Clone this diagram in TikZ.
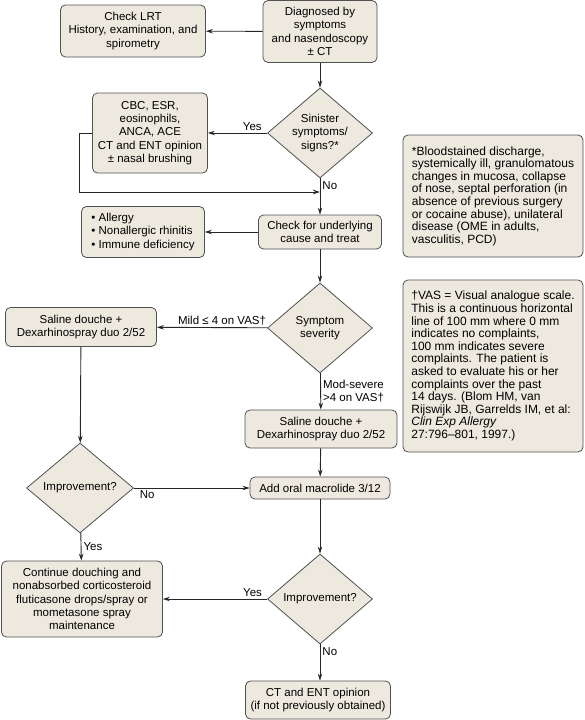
\documentclass[tikz,border=0pt]{standalone}
\usepackage{fontspec}
\setmainfont{Liberation Sans}
\usetikzlibrary{positioning}
\usetikzlibrary{shapes.geometric}
\usetikzlibrary{arrows.meta}

\definecolor{boxfill}{HTML}{EDE9DE}
\definecolor{boxline}{HTML}{505050}
\definecolor{arrowline}{HTML}{262626}

\tikzset{
  box/.style={draw=boxline, fill=boxfill, rounded corners=5pt, line width=0.8pt,
    align=center, inner sep=2pt, font=\fontsize{11.5}{13.4}\selectfont},
  decision/.style={draw=boxline, fill=boxfill, diamond, aspect=1.17, inner sep=0pt,
    line width=0.8pt, align=center, minimum width=105pt, minimum height=90pt,
    font=\fontsize{11.5}{13.4}\selectfont},
  note/.style={box, align=left, inner sep=4pt, font=\fontsize{12}{12.6}\selectfont},
  flow/.style={-{Stealth[length=7pt,width=4.5pt]}, line width=0.9pt, draw=arrowline},
  lbl/.style={font=\fontsize{11.5}{13.4}\selectfont, inner sep=2pt}
}

\begin{document}
\begin{tikzpicture}[x=1pt,y=-1pt]
        \useasboundingbox (0,0) rectangle (584,720);

        % Boxes of the main column
        \node[box, minimum width=114pt, minimum height=62pt] (diag) at (320,31.5)
          {Diagnosed by\\symptoms\\and nasendoscopy\\± CT};
        \node[decision] (sin) at (320,133) {Sinister\\symptoms/\\signs?*};
        \node[box, minimum width=123pt, minimum height=34pt] (under) at (320,232)
          {Check for underlying\\cause and treat};
        \node[decision] (sev) at (320,328) {Symptom\\severity};
        \node[box, minimum width=152pt, minimum height=38pt] (salr) at (321,429)
          {Saline douche +\\Dexarhinospray duo 2/52};
        \node[box, minimum width=140pt, minimum height=22pt] (macro) at (320,488)
          {Add oral macrolide 3/12};
        \node[decision] (impr) at (320,599) {Improvement?};
        \node[box, minimum width=145pt, minimum height=38pt] (ctent) at (318,700)
          {CT and ENT opinion\\(if not previously obtained)};

        % Boxes on the left
        \node[box, minimum width=145pt, minimum height=52pt] (lrt) at (133,31)
          {Check LRT\\History, examination, and\\spirometry};
        \node[box, minimum width=115pt, minimum height=80pt] (cbc) at (150,133)
          {CBC, ESR,\\eosinophils,\\ANCA, ACE\\CT and ENT opinion\\± nasal brushing};
        \node[box, align=left, minimum width=123pt, minimum height=51pt] (allergy) at (143,232)
          {\textbullet\ Allergy\\\textbullet\ Nonallergic rhinitis\\\textbullet\ Immune deficiency};
        \node[box, minimum width=151pt, minimum height=39pt] (sall) at (81,327)
          {Saline douche +\\Dexarhinospray duo 2/52};
        \node[decision, minimum width=107pt] (impl) at (80,488) {Improvement?};
        \node[box, minimum width=161pt, minimum height=76pt] (cont) at (82,599)
          {Continue douching and\\nonabsorbed corticosteroid\\fluticasone drops/spray or\\mometasone spray\\maintenance};

        % Notes on the right
        \node[note, minimum width=180pt, minimum height=122pt] (star) at (493,196)
          {*Bloodstained discharge,\\systemically ill, granulomatous\\changes in mucosa, collapse\\of nose, septal perforation (in\\absence of previous surgery\\or cocaine abuse), unilateral\\disease (OME in adults,\\vasculitis, PCD)};
        \node[note, minimum width=180pt, minimum height=172pt] (vas) at (493,366)
          {†VAS = Visual analogue scale.\\This is a continuous horizontal\\line of 100 mm where 0 mm\\indicates no complaints,\\100 mm indicates severe\\complaints. The patient is\\asked to evaluate his or her\\complaints over the past\\14 days. (Blom HM, van\\Rijswijk JB, Garrelds IM, et al:\\\textit{Clin Exp Allergy}\\27:796--801, 1997.)};

        \coordinate (loop) at (79,192);

        % Draw the connectors
        \draw[flow] (diag) -- (lrt);
        \draw[flow] (diag) -- (sin);
        \draw[flow] (sin) -- node[lbl, pos=0.25, above] {Yes} (cbc);
        \draw[flow] (sin) -- node[lbl, pos=0.2, right] {No} (under);
        \draw[flow] (cbc.west) -| (loop) -- (loop -| sin.south);
        \draw[flow] (under) -- (allergy);
        \draw[flow] (under) -- (sev);
        \draw[flow] (sev) -- node[lbl, pos=0.41, above] {Mild ≤ 4 on VAS†} (sall);
        \draw[flow] (sev) -- node[lbl, midway, right, align=left] {Mod-severe\\>4 on VAS†} (salr);
        \draw[flow] (sall) -- (impl);
        \draw[flow] (salr) -- (macro);
        \draw[flow] (impl) -- node[lbl, pos=0.03, below right] {No} (macro);
        \draw[flow] (impl) -- node[lbl, midway, right] {Yes} (cont);
        \draw[flow] (macro) -- (impr);
        \draw[flow] (impr) -- node[lbl, pos=0.14, above] {Yes} (cont);
        \draw[flow] (impr.south) -- node[lbl, pos=0.2, right] {No} (impr.south |- ctent.north);
      \end{tikzpicture}
\end{document}
